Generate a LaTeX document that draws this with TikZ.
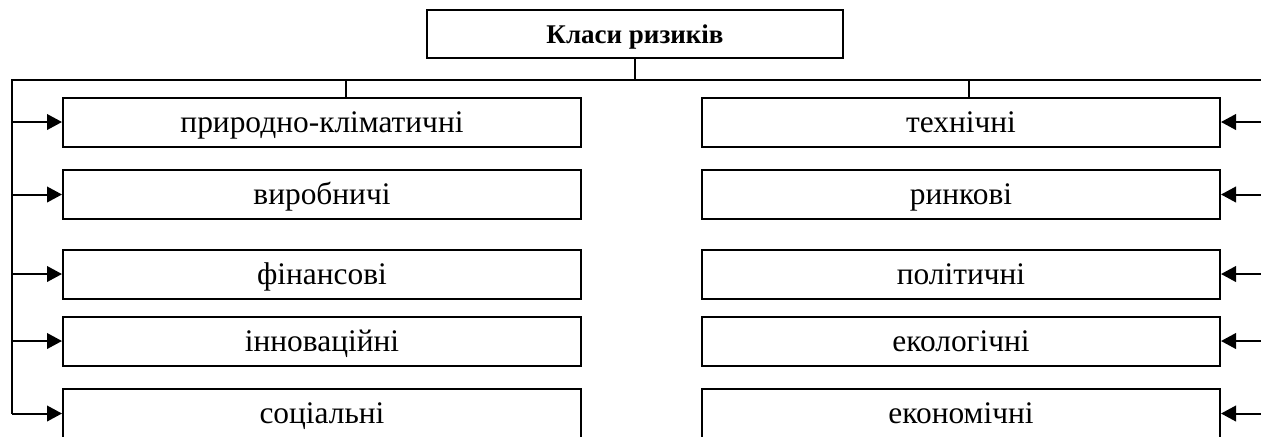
\documentclass[tikz,border=0pt]{standalone}
\usepackage{fontspec}
\setmainfont{Liberation Serif}
\usetikzlibrary{arrows.meta}

\begin{document}
\begin{tikzpicture}[x=0.5pt,y=-0.5pt,line width=1pt,
  box/.style={shape=rectangle,draw=black,minimum width=259pt,minimum height=24.5pt,inner sep=0pt,text height=10pt,text depth=0pt,font=\fontsize{15.7}{18}\selectfont},
  feed/.style={-{Triangle[length=7.5pt,width=7.8pt]}}]
  \clip (0,0) rectangle (1261,436);

  \node[box,minimum width=208pt,minimum height=24pt,text height=9pt,font=\fontsize{13.5}{16}\selectfont\bfseries] (top) at (635,34) {Класи ризиків};

  \foreach \name/\y/\txt in {k1/122/природно-кліматичні,k2/194.5/виробничі,k3/274/фінансові,k4/341/інноваційні,k5/413.5/соціальні}
    \node[box] (\name) at (322,\y) {\txt};
  \foreach \name/\y/\txt in {r1/122/технічні,r2/194.5/ринкові,r3/274/політичні,r4/341/екологічні,r5/413.5/економічні}
    \node[box] (\name) at (961,\y) {\txt};

  \coordinate (lbus) at (12,80);
  \coordinate (rbus) at (1262,80);

  \draw (top) -- (top |- lbus);
  \draw (k5.west -| lbus) -- (lbus) -- (rbus);
  \draw ([xshift=12pt]k1.north) -- ([xshift=12pt]k1.north |- lbus);
  \draw ([xshift=4pt]r1.north) -- ([xshift=4pt]r1.north |- rbus);

  \foreach \i in {1,...,5} {
    \draw[feed] (k\i.west -| lbus) -- (k\i.west);
    \draw[feed] (r\i.east -| rbus) -- (r\i.east);
  }
\end{tikzpicture}
\end{document}
